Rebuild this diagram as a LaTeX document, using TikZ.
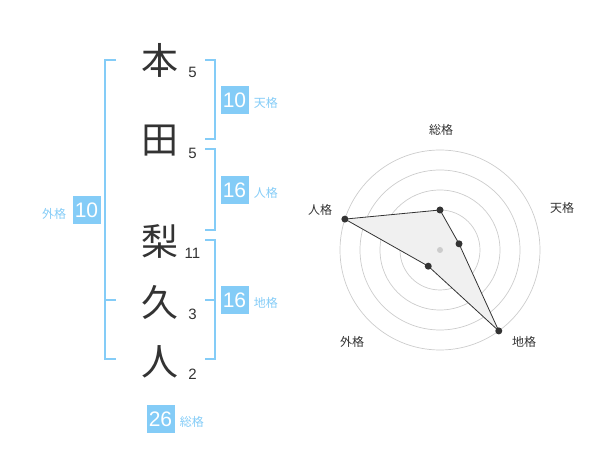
\documentclass[tikz,border=0pt]{standalone}
\usepackage{fontspec}
\setmainfont{Liberation Sans}
\newfontfamily\jp{Noto Sans CJK JP}
\usetikzlibrary{positioning}

\definecolor{kakublue}{HTML}{84CCF7}
\definecolor{ink}{HTML}{333333}
\definecolor{ringgray}{HTML}{CCCCCC}

\begin{document}
\begin{tikzpicture}[x = 1pt, y = -1pt,
	kanji/.style = {font = \jp\fontsize{37}{37}\selectfont, text = ink, inner sep = 0},
	strokes/.style = {font = \fontsize{15}{15}\selectfont, text = ink, inner sep = 0},
	kakubox/.style = {fill = kakublue, text = white, minimum width = 28pt, minimum height = 28pt, inner sep = 0, font = \fontsize{21}{21}\selectfont},
	kakulabel/.style = {font = \jp\fontsize{12}{12}\selectfont, text = kakublue, inner sep = 0},
	bracket/.style = {kakublue, line width = 2pt},
	radarlabel/.style = {font = \jp\fontsize{12}{12}\selectfont, text = ink, inner sep = 0}]

	\useasboundingbox (0, 0) rectangle (600, 470);

	% Name
	
	\foreach \c/\y/\s [count = \i] in {本/60/5, 田/141/5, 梨/241/11, 久/302/3, 人/362/2}
	{
		\node [kanji] (char\i) at (160, \y) {\c};
		\node [strokes] (stroke\i) at (192.5, \y + 12) {\s};
	}

	% Brackets
	
	\begin{scope}[bracket]
	
		\draw (116, 60) -- (105, 60) -- (105, 359) -- (116, 359);
		\draw (105, 300) -- (116, 300);
		\draw (205, 60) -- (215, 60) -- (215, 139) -- (205, 139);
		\draw (205, 149) -- (215, 149) -- (215, 230) -- (205, 230);
		\draw (205, 240) -- (215, 240) -- (215, 359) -- (205, 359);
		\draw (205, 300) -- (215, 300);
		
	\end{scope}
	
	% Kaku boxes
	
	\node [kakubox] (tenkaku) at (234.5, 100) {10};
	\node [kakubox] (jinkaku) at (234.5, 190) {16};
	\node [kakubox] (chikaku) at (234.5, 300) {16};
	\node [kakubox] (gaikaku) at (86.5, 210.5) {10};
	\node [kakubox] (sokaku) at (160.5, 419) {26};
	
	\node [kakulabel, right = 5pt of tenkaku, yshift = -3pt] (tenkaku label) {天格};
	\node [kakulabel, right = 5pt of jinkaku, yshift = -3pt] (jinkaku label) {人格};
	\node [kakulabel, right = 5pt of chikaku, yshift = -3pt] (chikaku label) {地格};
	\node [kakulabel, left = 6pt of gaikaku, yshift = -3pt] (gaikaku label) {外格};
	\node [kakulabel, right = 5pt of sokaku, yshift = -3pt] (sokaku label) {総格};

	% Radar
	
	\begin{scope}[shift = {(440, 250)}, yscale = -1]
	
		\foreach \r in {20, 40, 60, 80, 100}
			\draw [ringgray, line width = 0.7pt] (0, 0) circle (\r);
		
		\foreach \a/\r/\n in {90/40/so, 18/20/ten, -54/100/chi, -126/20/gai, 162/100/jin}
			\coordinate (p-\n) at (\a:\r);
		
		\filldraw [fill = black!6, draw = ink, line width = 0.8pt, line join = round] (p-so) -- (p-ten) -- (p-chi) -- (p-gai) -- (p-jin) -- cycle;
		
		\fill [ringgray] (0, 0) circle (3);
		
		\foreach \n in {so, ten, chi, gai, jin}
			\fill [ink] (p-\n) circle (3.5);
		
	\end{scope}
	
	\node [radarlabel] (so label) at (441, 130) {総格};
	\node [radarlabel] (ten label) at (562, 208) {天格};
	\node [radarlabel] (jin label) at (320, 210) {人格};
	\node [radarlabel] (gai label) at (352, 342) {外格};
	\node [radarlabel] (chi label) at (524, 342) {地格};

\end{tikzpicture}
\end{document}
